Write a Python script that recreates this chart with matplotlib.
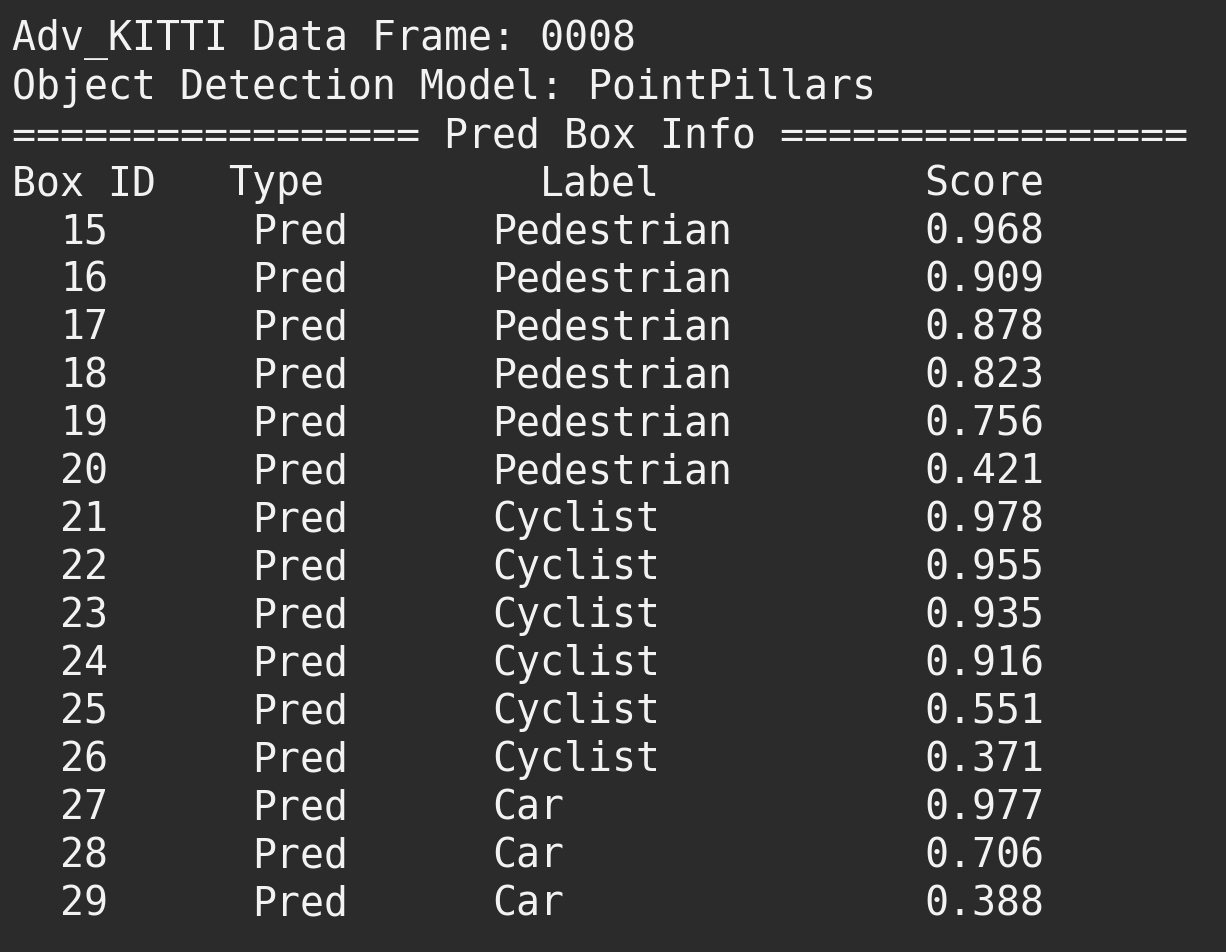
import matplotlib
matplotlib.use("Agg")
import matplotlib.pyplot as plt

title_lines = ["Adv_KITTI Data Frame: 0008", "Object Detection Model: PointPillars"]
separator = "================= Pred Box Info ================="
header = ["Box ID", "Type", "Label", "Score"]
box_ids = [15, 16, 17, 18, 19, 20, 21, 22, 23, 24, 25, 26, 27, 28, 29]
types = ["Pred"] * 15
labels = ["Pedestrian"] * 6 + ["Cyclist"] * 6 + ["Car"] * 3
scores = [0.968, 0.909, 0.878, 0.823, 0.756, 0.421, 0.978, 0.955, 0.935,
          0.916, 0.551, 0.371, 0.977, 0.706, 0.388]

W, H = 1226, 952
fig = plt.figure(figsize=(W / 100, H / 100), dpi=100)
fig.patch.set_facecolor("#2b2b2b")
ax = fig.add_axes([0, 0, 1, 1])
ax.set_xlim(0, W)
ax.set_ylim(H, 0)
ax.axis("off")

cw = 24.0
x0 = 12
lh = 48.0
y0 = 40
fs = 28.7
col = "#f2f2f2"

def put(text, c, row):
    ax.text(x0 + c * cw, y0 + row * lh, text, family="DejaVu Sans Mono",
            fontsize=fs, color=col, va="center", ha="left")

put(title_lines[0], 0, 0)
put(title_lines[1], 0, 1)
put(separator, 0, 2)
for h, c in zip(header, [0, 9, 22, 38]):
    put(h, c, 3)
for i, (b, t, l, s) in enumerate(zip(box_ids, types, labels, scores)):
    r = 4 + i
    put(str(b), 2, r)
    put(t, 10, r)
    put(l, 20, r)
    put(f"{s:.3f}", 38, r)

fig.savefig("out.png", dpi=100, facecolor=fig.get_facecolor())
